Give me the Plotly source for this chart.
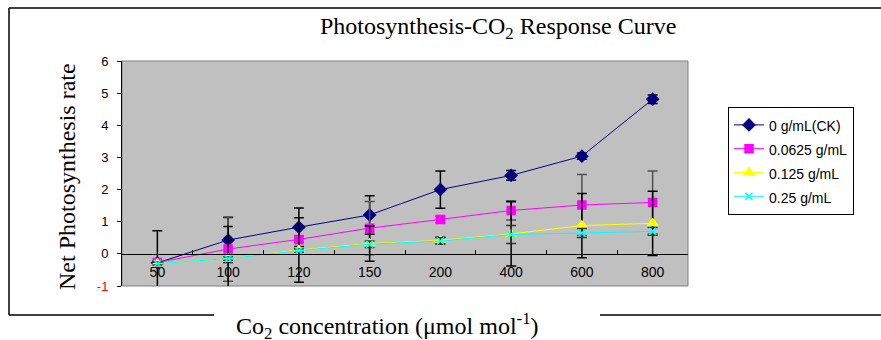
import plotly.graph_objects as go

categories = ["50", "100", "120", "150", "200", "400", "600", "800"]
series_names = ["0 g/mL(CK)", "0.0625 g/mL", "0.125 g/mL", "0.25 g/mL"]
ck = [-0.28, 0.43, 0.83, 1.21, 2.0, 2.44, 3.04, 4.81]
ck_err = [1.0, 0.7, 0.6, 0.6, 0.58, 0.15, 0.1, 0.13]
m0625 = [-0.27, 0.15, 0.45, 0.8, 1.07, 1.35, 1.52, 1.6]
m0625_err = [0.05, 1.0, 0.1, 0.83, 0.1, 0.3, 0.95, 0.98]
m125 = [-0.3, -0.15, 0.12, 0.32, 0.42, 0.62, 0.88, 0.95]
m125_err = [0.05, 1.0, 1.0, 0.55, 0.1, 1.0, 1.0, 1.0]
m25 = [-0.3, -0.15, 0.1, 0.3, 0.4, 0.6, 0.65, 0.7]
m25_err = [0.05, 0.05, 0.05, 0.1, 0.1, 0.28, 0.14, 0.12]
yticks = [-1, 0, 1, 2, 3, 4, 5, 6]

W, H = 881, 340
L, R, T, B = 122, 193, 61, 54
pw, ph = W - L - R, H - T - B

def px(x):
    return (x - L) / pw

def py(y):
    return (H - B - y) / ph

fig = go.Figure()
specs = [
    (ck, ck_err, "#000080", "diamond", 9, "#000000"),
    (m0625, m0625_err, "#FF00FF", "square", 8, "#505050"),
    (m125, m125_err, "#FFFF00", "triangle-up", 9, "#000000"),
    (m25, m25_err, "#00FFFF", "x-thin", 7, "#303030"),
]
for name, (vals, err, col, sym, sz, ecol) in zip(series_names, specs):
    fig.add_trace(go.Scatter(
        x=categories, y=vals, name="<span style='font-size:14px'>" + name + "</span>",
        mode="lines+markers",
        line=dict(color=col, width=1),
        marker=dict(symbol=sym, size=sz, color=col, line=dict(color=col, width=1.5)),
        error_y=dict(type="data", array=err, visible=True, color=ecol, thickness=1.5, width=5),
    ))

ticktext = ["<span style='color:#FF0000'>-1</span>"] + [str(v) for v in yticks[1:]]

fig.update_layout(
    width=W, height=H,
    margin=dict(l=L, r=R, t=T, b=B),
    paper_bgcolor="white",
    plot_bgcolor="#C0C0C0",
    font=dict(family="Liberation Sans, Arial", size=13, color="black"),
    showlegend=True,
    legend=dict(
        x=px(728), y=py(107), xanchor="left", yanchor="top",
        bordercolor="black", borderwidth=1, bgcolor="white",
        font=dict(family="Liberation Sans, Arial", size=16, color="black"),
    ),
    xaxis=dict(
        type="category", range=[-0.5, 7.5], anchor="free", position=1 / 7,
        showline=True, linecolor="black", linewidth=1,
        ticks="inside", ticklen=4, tickcolor="black", tickson="boundaries",
        showgrid=False, zeroline=False, ticklabelstandoff=5,
        tickfont=dict(size=14),
    ),
    yaxis=dict(
        range=[-1, 6], tickvals=yticks, ticktext=ticktext,
        showline=True, linecolor="black", linewidth=1,
        ticks="outside", ticklen=4, tickcolor="black",
        showgrid=False, zeroline=False, ticklabelstandoff=6,
        tickfont=dict(size=13),
    ),
    shapes=[
        dict(type="rect", xref="paper", yref="paper", x0=0, x1=1, y0=0, y1=1,
             line=dict(color="#808080", width=1), layer="below"),
        dict(type="line", xref="paper", yref="paper", x0=px(9), x1=px(9), y0=py(8), y1=py(315),
             line=dict(color="black", width=1.5)),
        dict(type="line", xref="paper", yref="paper", x0=px(9), x1=px(890), y0=py(8), y1=py(8),
             line=dict(color="black", width=1.5)),
        dict(type="line", xref="paper", yref="paper", x0=px(9), x1=px(214), y0=py(315), y1=py(315),
             line=dict(color="black", width=1.5)),
        dict(type="line", xref="paper", yref="paper", x0=px(600), x1=px(890), y0=py(315), y1=py(315),
             line=dict(color="black", width=1.5)),
    ],
    annotations=[
        dict(text="Photosynthesis-CO<sub>2</sub> Response Curve", xref="paper", yref="paper",
             x=px(498), y=py(28), xanchor="center", yanchor="middle", showarrow=False,
             font=dict(family="Liberation Serif, Times New Roman", size=24)),
        dict(text="Net Photosynthesis rate", xref="paper", yref="paper",
             x=px(67), y=py(177), xanchor="center", yanchor="middle", showarrow=False,
             textangle=-90, font=dict(family="Liberation Serif, Times New Roman", size=24)),
        dict(text="Co<sub>2</sub> concentration (\u03bcmol mol<sup>-1</sup>)", xref="paper", yref="paper",
             x=px(387), y=py(326), xanchor="center", yanchor="middle", showarrow=False,
             font=dict(family="Liberation Serif, Times New Roman", size=24)),
    ],
)

fig.write_html("out.html")
